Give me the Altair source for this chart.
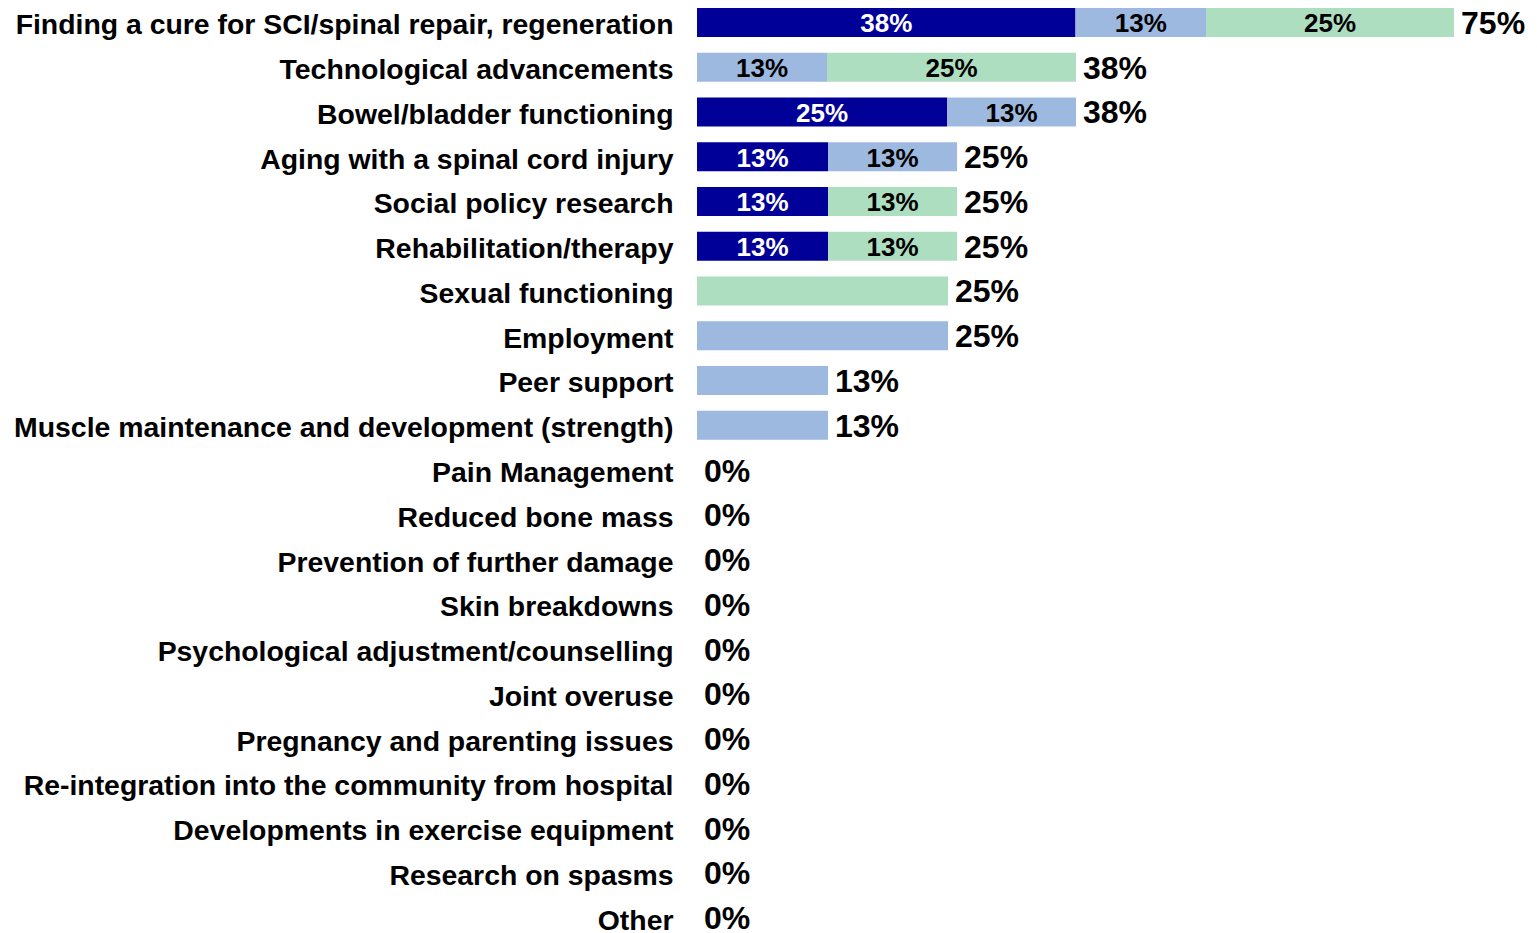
import altair as alt
import pandas as pd

categories = [
    "Finding a cure for SCI/spinal repair, regeneration",
    "Technological advancements",
    "Bowel/bladder functioning",
    "Aging with a spinal cord injury",
    "Social policy research",
    "Rehabilitation/therapy",
    "Sexual functioning",
    "Employment",
    "Peer support",
    "Muscle maintenance and development (strength)",
    "Pain Management",
    "Reduced bone mass",
    "Prevention of further damage",
    "Skin breakdowns",
    "Psychological adjustment/counselling",
    "Joint overuse",
    "Pregnancy and parenting issues",
    "Re-integration into the community from hospital",
    "Developments in exercise equipment",
    "Research on spasms",
    "Other",
]

series_names = ["S1", "S2", "S3"]
series_colors = ["#000099", "#9DB9DF", "#AEDEC0"]
label_colors = ["#FFFFFF", "#000000", "#000000"]

s1_values = [37.7, 0, 24.9, 13.05, 13.05, 13.05, 0, 0, 0, 0, 0, 0, 0, 0, 0, 0, 0, 0, 0, 0, 0]
s2_values = [13.0, 12.95, 12.85, 12.85, 0, 0, 0, 25.0, 13.05, 13.05, 0, 0, 0, 0, 0, 0, 0, 0, 0, 0, 0]
s3_values = [24.7, 24.8, 0, 0, 12.85, 12.85, 25.0, 0, 0, 0, 0, 0, 0, 0, 0, 0, 0, 0, 0, 0, 0]

s1_labels = ["38%", "", "25%", "13%", "13%", "13%", "", "", "", "", "", "", "", "", "", "", "", "", "", "", ""]
s2_labels = ["13%", "13%", "13%", "13%", "", "", "", "", "", "", "", "", "", "", "", "", "", "", "", "", ""]
s3_labels = ["25%", "25%", "", "", "13%", "13%", "", "", "", "", "", "", "", "", "", "", "", "", "", "", ""]

total_labels = ["75%", "38%", "38%", "25%", "25%", "25%", "25%", "25%", "13%", "13%",
                "0%", "0%", "0%", "0%", "0%", "0%", "0%", "0%", "0%", "0%", "0%"]

rows = []
totals = []
for i, cat in enumerate(categories):
    start = 0.0
    for k, (vals, labs) in enumerate([(s1_values, s1_labels), (s2_values, s2_labels), (s3_values, s3_labels)]):
        v = vals[i]
        if v > 0:
            rows.append({"category": cat, "series": series_names[k], "start": start,
                         "end": start + v, "label": labs[i], "lcolor": label_colors[k]})
        start += v
    totals.append({"category": cat, "total": start, "tlabel": total_labels[i]})

seg = pd.DataFrame(rows)
tot = pd.DataFrame(totals)

FONT = "Liberation Sans"

y_enc = alt.Y("category:N", sort=categories,
              scale=alt.Scale(paddingInner=0.352, paddingOuter=0),
              axis=alt.Axis(title=None, ticks=False, domain=False, labelPadding=24,
                            labelFontSize=28.4, labelFont=FONT, labelFontWeight="bold",
                            labelColor="#000000", labelLimit=800, labelOffset=3))
x_scale = alt.Scale(domain=[0, 81.67], nice=False, zero=True)

bars = alt.Chart(seg).mark_bar().encode(
    x=alt.X("start:Q", scale=x_scale, axis=None),
    x2="end:Q",
    y=y_enc,
    color=alt.Color("series:N", scale=alt.Scale(domain=series_names, range=series_colors), legend=None),
)

inner = alt.Chart(seg).transform_calculate(mid="(datum.start + datum.end) / 2").mark_text(
    font=FONT, fontWeight="bold", fontSize=26, align="center", baseline="middle", dy=2
).encode(
    x=alt.X("mid:Q", scale=x_scale, axis=None),
    y=alt.Y("category:N", sort=categories),
    text="label:N",
    color=alt.Color("lcolor:N", scale=None),
)

tot_text = alt.Chart(tot).mark_text(
    font=FONT, fontWeight="bold", fontSize=32, align="left", baseline="middle", dx=7, dy=1.5,
    color="#000000"
).encode(
    x=alt.X("total:Q", scale=x_scale, axis=None),
    y=alt.Y("category:N", sort=categories),
    text="tlabel:N",
)

chart = alt.layer(bars, inner, tot_text).properties(
    width=820, height=924,
    autosize=alt.AutoSizeParams(type="none"),
    padding={"left": 689, "top": 0, "right": 12, "bottom": 12},
).configure_view(stroke=None)

chart.save("out.html", embed_options={"renderer": "svg", "actions": False})
